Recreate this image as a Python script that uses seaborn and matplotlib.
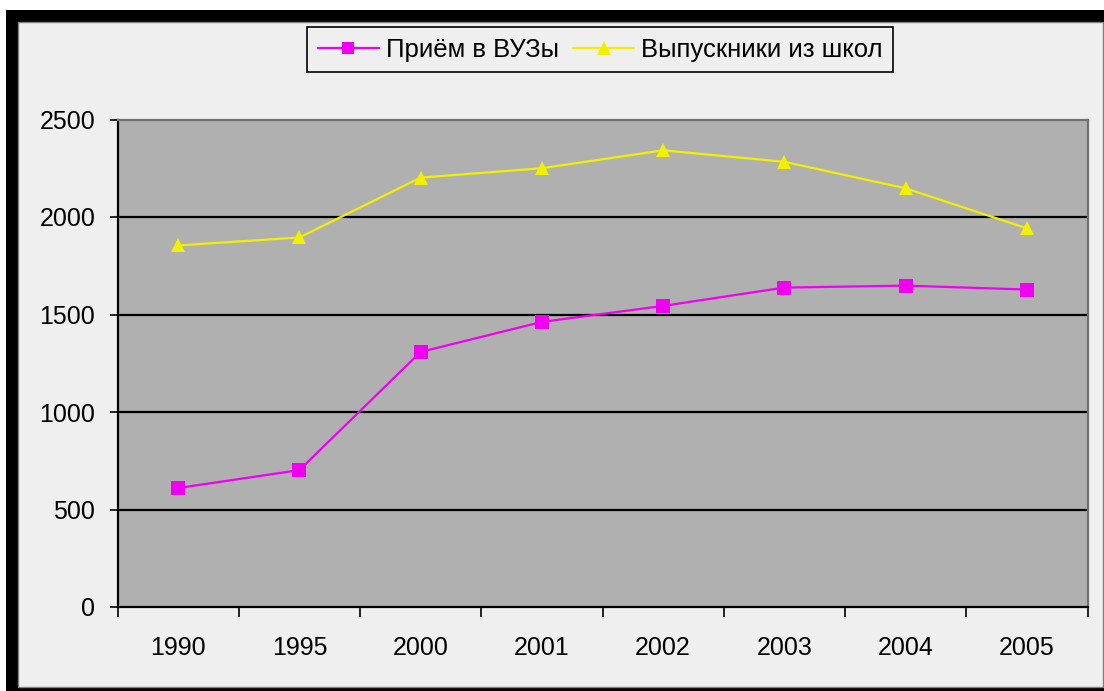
import matplotlib
matplotlib.use("Agg")
import matplotlib.pyplot as plt
from matplotlib.patches import Rectangle
from matplotlib.lines import Line2D
import seaborn as sns
import pandas as pd
import numpy as np

years = ["1990", "1995", "2000", "2001", "2002", "2003", "2004", "2005"]
admissions = [610, 702, 1308, 1462, 1544, 1638, 1648, 1628]
graduates = [1854, 1895, 2202, 2250, 2342, 2283, 2147, 1942]
series_names = ["Приём в ВУЗы", "Выпускники из школ"]
y_ticks = [0, 500, 1000, 1500, 2000, 2500]

sns.set_theme(style="white")
plt.rcParams["font.family"] = ["Liberation Sans", "DejaVu Sans"]
plt.rcParams["text.color"] = "black"
plt.rcParams["xtick.color"] = "black"
plt.rcParams["ytick.color"] = "black"
plt.rcParams["xtick.labelcolor"] = "black"
plt.rcParams["ytick.labelcolor"] = "black"

W, H = 1104, 691
fig = plt.figure(figsize=(W / 100, H / 100), dpi=100)
fig.patch.set_facecolor("white")

def px_rect(x0, y0, x1, y1, **kw):
    return Rectangle((x0 / W, 1 - y1 / H), (x1 - x0) / W, (y1 - y0) / H,
                     transform=fig.transFigure, **kw)

fig.patches.append(px_rect(6, 10, 1104, 691, facecolor="black", edgecolor="none", zorder=-10))
fig.patches.append(px_rect(18, 22, 1103, 687, facecolor="#EFEFEF", edgecolor="#808080", linewidth=1, zorder=-9))

left, right, top, bottom = 117.5, 1087.5, 119.5, 607
ax = fig.add_axes([left / W, 1 - bottom / H, (right - left) / W, (bottom - top) / H])
ax.set_facecolor("#B0B0B0")

pos = np.arange(len(years)) + 0.5
df = pd.DataFrame({
    "x": np.concatenate([pos, pos]),
    "value": admissions + graduates,
    "series": [series_names[0]] * len(years) + [series_names[1]] * len(years),
})

palette = {series_names[0]: "#F000F0", series_names[1]: "#F0F000"}
markers = {series_names[0]: "s", series_names[1]: "^"}
sns.lineplot(data=df, x="x", y="value", hue="series", style="series",
             palette=palette, markers=markers, dashes=False, markersize=10,
             markeredgewidth=0, linewidth=1.6, ax=ax, legend=False, zorder=5)

ax.set_xlim(0, len(years))
ax.set_ylim(0, 2500)
ax.set_yticks(y_ticks)
ax.set_yticklabels([str(v) for v in y_ticks], fontsize=18, color="black")
ax.set_xticks(np.arange(len(years) + 1))
ax.set_xticklabels([])
ax.set_xticks(pos, minor=True)
ax.set_xticklabels(years, minor=True, fontsize=18, color="black")
ax.tick_params(axis="x", which="major", direction="out", length=7, width=1.2, color="black", bottom=True)
ax.tick_params(axis="x", which="minor", length=0, pad=21, bottom=True)
ax.tick_params(axis="y", direction="out", length=5.5, width=1.2, color="black", pad=10.5, left=True)
ax.set_xlabel("")
ax.set_ylabel("")

for v in y_ticks[1:-1]:
    ax.axhline(v, color="black", linewidth=1.6, zorder=1)

for s in ["left", "bottom"]:
    ax.spines[s].set_color("black")
    ax.spines[s].set_linewidth(1.6)
for s in ["top", "right"]:
    ax.spines[s].set_color("#707070")
    ax.spines[s].set_linewidth(1.6)

handles = [
    Line2D([], [], color=palette[series_names[0]], marker="s", markersize=9, markeredgewidth=0, linewidth=1.6),
    Line2D([], [], color=palette[series_names[1]], marker="^", markersize=10, markeredgewidth=0, linewidth=1.6),
]
leg = fig.legend(handles, series_names, loc="center", ncol=2,
                 bbox_to_anchor=(600 / W, 1 - 49.5 / H), frameon=True, fancybox=False,
                 edgecolor="black", facecolor="#EFEFEF", framealpha=1, fontsize=18.5,
                 handlelength=2.4, handletextpad=0.25, columnspacing=0.55,
                 borderpad=0.42, borderaxespad=0, labelcolor="black")
leg.get_frame().set_linewidth(1.2)

fig.savefig("out.png", dpi=100, facecolor=fig.get_facecolor())
